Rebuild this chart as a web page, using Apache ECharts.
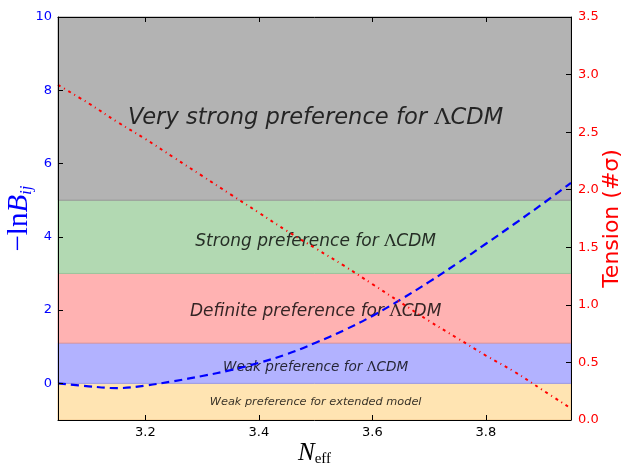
<!DOCTYPE html>
<html><head><meta charset="utf-8">
<script src="https://cdn.jsdelivr.net/npm/echarts@6/dist/echarts.min.js"></script>
<style>html,body{margin:0;padding:0;background:#fff}#c{width:622px;height:465px}</style>
</head><body><div id="c"></div>
<script>
// ---- data ----
const xValues = [3.046, 3.1, 3.15, 3.2, 3.25, 3.3, 3.35, 3.4, 3.45, 3.5, 3.55, 3.6, 3.65, 3.7, 3.75, 3.8, 3.85, 3.9, 3.95];
const lnB = [0.0, -0.08, -0.13, -0.06, 0.06, 0.20, 0.36, 0.56, 0.80, 1.11, 1.45, 1.84, 2.29, 2.77, 3.28, 3.81, 4.35, 4.90, 5.47];
const tension = [2.91, 2.75, 2.59, 2.44, 2.28, 2.12, 1.96, 1.80, 1.64, 1.49, 1.34, 1.18, 1.02, 0.86, 0.71, 0.56, 0.42, 0.26, 0.10];
const xTicks = [3.2, 3.4, 3.6, 3.8];
const leftTicks = [0, 2, 4, 6, 8, 10];
const bandEdges = [-1, 0, 1.1, 3, 5, 10];
const bandColors = ['#ffe4b2', '#b2b2ff', '#ffb2b2', '#b2d9b2', '#b3b3b3'];
const bandBorders = ['#f0c890', '#9a9ae8', '#e59a9a', '#9cc49c', '#999999'];
const labelPrefix = ['Weak preference for extended model', 'Weak preference for ', 'Definite preference for ', 'Strong preference for ', 'Very strong preference for '];
const labelHasLCDM = [false, true, true, true, true];
const labelX = 3.5;
const labelY = [-0.52, 0.44, 1.96, 3.87, 7.25];
const labelSizes = [11.3, 13.6, 17, 17, 22.6];

const chart = echarts.init(document.getElementById('c'), null, {renderer: 'canvas'});

const bandData = bandColors.map((c, i) => [
  {yAxis: bandEdges[i], itemStyle: {color: c, opacity: 1, borderColor: bandBorders[i], borderWidth: 1}},
  {yAxis: bandEdges[i + 1]}
]);

const textData = labelPrefix.map((p, i) => {
  const s = labelSizes[i];
  return {
    value: [labelX, labelY[i]],
    label: {
      show: true, position: 'inside', textBorderWidth: 0,
      formatter: labelHasLCDM[i] ? '{i|' + p + '}{l|Λ}{i|CDM}' : '{i|' + p + '}',
      rich: {
        i: {fontFamily: 'DejaVu Sans', fontStyle: 'italic', fontSize: s, color: '#000', textBorderWidth: 0},
        l: {fontFamily: 'DejaVu Serif', fontSize: s, color: '#000', textBorderWidth: 0}
      }
    }
  };
});

const sans = 'DejaVu Sans';
chart.setOption({
  animation: false,
  backgroundColor: '#fff',
  grid: {left: 58, right: 51, top: 17, bottom: 45, containLabel: false, outerBoundsMode: 'none'},
  xAxis: [{
    type: 'value', min: 3.046, max: 3.95, position: 'bottom', z: 10,
    axisLine: {show: true, onZero: false, lineStyle: {color: '#000', width: 1}},
    axisTick: {show: true, inside: true, length: 5, customValues: xTicks, lineStyle: {color: '#000'}},
    axisLabel: {show: true, customValues: xTicks, formatter: v => v.toFixed(1), color: '#000', fontFamily: sans, fontSize: 13, margin: 6},
    splitLine: {show: false},
    name: '{n|N}{s|eff}', nameLocation: 'middle', nameGap: 20, nameMoveOverlap: false,
    nameTextStyle: {rich: {
      n: {fontFamily: 'Liberation Serif', fontStyle: 'italic', fontSize: 25, color: '#000'},
      s: {fontFamily: 'Liberation Serif', fontSize: 15, color: '#000', padding: [12, 0, 0, 0]}
    }}
  }, {
    type: 'value', min: 3.046, max: 3.95, position: 'top', z: 10,
    axisLine: {show: true, onZero: false, lineStyle: {color: '#000', width: 1}},
    axisTick: {show: true, inside: true, length: 5, customValues: xTicks, lineStyle: {color: '#000'}},
    axisLabel: {show: false}, splitLine: {show: false}
  }],
  yAxis: [{
    type: 'value', min: -1, max: 10, position: 'left', z: 10,
    axisLine: {show: true, onZero: false, lineStyle: {color: '#000', width: 1}},
    axisTick: {show: true, inside: true, length: 5, customValues: leftTicks, lineStyle: {color: '#000'}},
    axisLabel: {show: true, customValues: leftTicks, color: '#0000ff', fontFamily: sans, fontSize: 13, margin: 6},
    splitLine: {show: false},
    name: '{a|−ln}{b|B}{s|ij}', nameLocation: 'middle', nameGap: 23, nameRotate: 90, nameMoveOverlap: false,
    nameTextStyle: {rich: {
      a: {fontFamily: 'Liberation Serif', fontSize: 29, color: '#0000ff'},
      b: {fontFamily: 'Liberation Serif', fontStyle: 'italic', fontSize: 29, color: '#0000ff'},
      s: {fontFamily: 'Liberation Serif', fontStyle: 'italic', fontSize: 17, color: '#0000ff', padding: [14, 0, 0, 0]}
    }}
  }, {
    type: 'value', min: 0, max: 3.5, interval: 0.5, position: 'right', z: 10,
    axisLine: {show: true, onZero: false, lineStyle: {color: '#000', width: 1}},
    axisTick: {show: true, inside: true, length: 5, lineStyle: {color: '#000'}},
    axisLabel: {show: true, color: '#ff0000', fontFamily: sans, fontSize: 13, margin: 7, formatter: v => v.toFixed(1)},
    splitLine: {show: false},
    name: 'Tension (#σ)', nameLocation: 'middle', nameGap: 30, nameRotate: 90, nameMoveOverlap: false,
    nameTextStyle: {fontFamily: sans, fontSize: 22, color: '#ff0000'}
  }],
  series: [{
    type: 'line', name: 'bands', xAxisIndex: 0, yAxisIndex: 0, data: [], z: 1, silent: true,
    markArea: {silent: true, data: bandData}
  }, {
    type: 'scatter', name: 'labels', xAxisIndex: 0, yAxisIndex: 0, z: 2, silent: true,
    symbolSize: 0, data: textData
  }, {
    type: 'line', name: 'lnB', xAxisIndex: 0, yAxisIndex: 0, z: 4, smooth: 0.4, showSymbol: false,
    data: xValues.map((x, i) => [x, lnB[i]]),
    lineStyle: {color: '#0000ff', width: 2.2, type: [8, 5]}
  }, {
    type: 'line', name: 'tension', xAxisIndex: 0, yAxisIndex: 1, z: 4, smooth: 0.4, showSymbol: false,
    data: xValues.map((x, i) => [x, tension[i]]),
    lineStyle: {color: '#ff0000', width: 2, type: [3, 4, 1, 4]}
  }]
});
</script></body></html>
